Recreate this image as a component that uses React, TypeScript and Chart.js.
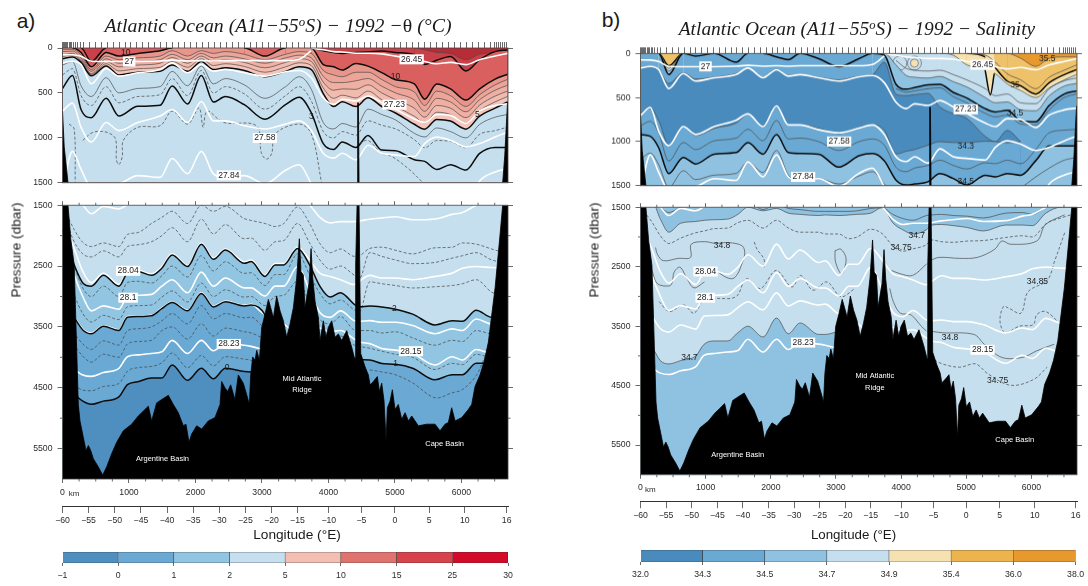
import React, { useEffect, useRef } from "react";
import { Chart, registerables } from "chart.js";
Chart.register(...registerables);

const SANS = "'Liberation Sans', Arial, sans-serif";

// ---------- shared axes ----------
const stationsKm = [0,15,30,45,60,80,100,120,140,165,190,220,265,310,400,490,580,670,760,850,940,1030,1120,1210,1300,1390,1480,1570,1660,1750,1840,1930,2020,2110,2200,2290,2380,2470,2560,2650,2740,2830,2920,3010,3100,3190,3280,3370,3460,3550,3640,3730,3820,3910,4000,4090,4180,4270,4360,4450,4540,4630,4720,4810,4900,4990,5080,5170,5260,5350,5440,5530,5620,5710,5800,5890,5980,6070,6160,6250,6340,6430,6490,6530,6560,6590,6620,6650,6680];
const kmMajor = [0,1000,2000,3000,4000,5000,6000];
const kmMinor = [250,500,750,1250,1500,1750,2250,2500,2750,3250,3500,3750,4250,4500,4750,5250,5500,5750,6250,6500];
const lonKm = [0,392,785,1180,1572,1965,2357,2750,3144,3534,4005,4495,5000,5514,6051,6680];
const lonLabels = ["−60","−55","−50","−45","−40","−35","−30","−25","−20","−15","−10","−5","0","5","10","16"];
const pressureUpperTicks = [0,500,1000,1500];
const pressureLowerTicks = [1500,2500,3500,4500,5500];
const pressureLowerMinor = [2000,3000,4000,5000];

// ---------- bathymetry (km, dbar) ----------
const bathyKm = [0,26,83,124,176,202,238,263,313,353,389,424,464,539,604,664,739,815,915,1040,1140,1216,1291,1341,1416,1491,1592,1667,1742,1817,1857,1902,1943,2018,2093,2193,2293,2369,2394,2444,2484,2529,2594,2644,2719,2770,2810,2830,2860,2896,2921,2961,2996,3046,3096,3131,3171,3221,3272,3322,3372,3422,3472,3522,3562,3587,3622,3647,3708,3738,3763,3798,3848,3873,3923,3963,3998,4049,4099,4149,4199,4274,4349,4399,4409,4430,4439,4450,4460,4485,4550,4600,4625,4675,4735,4766,4801,4836,4866,4886,4926,4961,5001,5051,5101,5152,5202,5252,5352,5477,5603,5678,5753,5803,5853,5904,6004,6104,6154,6204,6279,6340,6405,6506,6584,6620,6651,6693,6700];
const bathyP = [700,1100,1500,2050,2481,3451,4776,5045,5315,5531,5450,5531,5666,5801,5936,5801,5585,5396,5207,5099,4964,4884,4803,5045,4749,4695,4625,4776,4911,5126,5099,5396,5261,5126,5180,5045,4991,4776,4398,4506,4560,4452,4695,4290,4425,4614,4776,4300,3994,4048,3886,4048,3508,3292,3049,3184,3346,2995,3238,3400,3670,3454,3184,2699,2051,2591,2645,3184,2780,2213,2699,3076,3346,3724,3400,3670,3508,3400,3670,3616,3724,3562,3832,4048,2483,1500,610,610,1500,3939,4155,4290,4452,4398,4317,4560,4425,4721,5369,4829,4721,4533,4856,4775,5018,4910,5045,4964,5126,5099,5099,5207,5099,5072,4829,5045,4991,4856,4775,4479,4290,4074,3750,2858,1942,1500,1200,600,600];

// ---------- upper section grid (km) ----------
const gridU = [0,150,279,434,656,848,1132,1468,1649,1881,2088,2269,2450,2734,3044,3354,3561,3742,3922,4078,4207,4413,4594,4801,5008,5292,5447,5628,5835,6067,6274,6506,6693];
// lower section grid (km)
const gridL = [0,176,305,434,615,848,977,1132,1339,1494,1649,1881,2088,2269,2450,2734,2837,3044,3199,3328,3535,3716,3871,4026,4181,4388,4465,4620,4801,5008,5266,5602,5860,6016,6222,6455,6693];

// ---------- isopycnals, common to both panels (dbar) ----------
const sig27 = [74,75,92,147,150,150,150,145,135,145,140,145,140,140,140,140,125,30];
const sig2645 = [0,20,40,45,58,58,65,90,120,150,175,160,185,130,90,60];
const sig2723 = [166,147,184,398,228,313,276,240,166,276,184,258,240,276,313,265,250,332,553,626,571,590,534,608,682,790,830,740,750,840,700,640,620];
const sig2758 = [703,613,883,1046,829,919,829,757,685,829,595,811,811,865,901,847,811,919,1172,1226,1172,1244,1082,1172,1190,1208,1064,991,1028,1100,1064,991,937];
const sig2784 = [1560,1150,1350,1550,1520,1510,1420,1440,1230,1400,1150,1400,1440,1420,1510,1360,1300,1510,1700,1750,1750,1750,1750,1750,1750,1750,1750,1750,1750,1750,1480,1380,1340];
const sig2784Low = [1400,1400,1500,1640,1520,1560,1490,1400,1400,1400,1400,1400,1400,1400,1400,1400,1400,1400,1400,1400,1400,1500,1700,1790,1770,1770,1760,1730,1710,1690,1740,1726,1650,1620,1500,1400,1400];
const sig2804 = [1700,2211,2589,2777,2620,2800,2600,2570,2630,2510,2300,2490,2120,2370,2220,2430,2400,2650,2460,2460,2190,2400,2616,2670,2724,2804,2750,2653,2697,2697,2724,2670,2616,2535,2508,2524,2535];
const sig2810 = [1900,2643,3000,3236,3155,3209,3000,2980,2966,2831,2724,2939,2600,2831,2697,2858,2858,2993,2830,2830,2508,2900,3263,3343,3236,3397,3410,3397,3424,3424,3478,3613,3532,3559,3370,3451,3451];
const sig2815 = [3000,3330,3540,3600,3480,3550,3330,3320,3310,3190,3090,3225,2940,3160,3075,3145,3130,3290,3300,3450,3600,3500,3520,3580,3560,3700,3750,3775,3856,3882,3936,4125,3990,4044,3871,3936,3936];
const sig2823 = [4100,4200,4290,4314,4250,4180,3990,3960,3936,3910,3721,3936,3721,3893,3775,3802,3820,3882];

// ---------- panel a, upper: temperature contours (dbar) ----------
const t25 = [0,0,0,0,0,0,0,0,0,0,0,0,0,0,0,0,0,0,0,0,0,0,0,0,0,0,20,50,60,130,70,50,30];
const t15 = [0,0,0,150,0,0,0,0,0,0,0,0,0,0,0,0,0,0,30,50,60,50,45,33,51,76,184,137,94,256,130,40,22];
const t10 = [0,0,50,210,50,90,60,30,0,0,0,0,0,0,90,0,0,0,184,209,245,173,202,274,353,400,569,400,454,579,454,346,292];
const t9 = [15,15,80,240,90,130,110,90,30,90,30,60,40,70,130,70,40,60,250,300,320,270,270,350,430,490,640,480,530,650,520,410,350];
const t8 = [40,35,110,260,120,170,150,130,70,130,60,110,90,120,170,110,80,110,315,385,385,365,340,425,500,580,705,560,600,710,575,470,415];
const t7 = [70,60,130,285,150,210,190,170,105,170,90,150,130,160,220,160,120,150,380,470,455,460,410,500,575,670,770,640,670,775,635,535,480];
const t6 = [95,80,145,295,175,255,230,215,150,215,120,195,175,205,270,210,165,195,445,560,525,555,480,575,650,760,835,715,740,840,695,600,540];
const t5 = [120,100,160,310,200,300,270,260,190,260,150,240,220,250,320,260,210,240,507,651,597,651,554,651,723,849,903,795,813,903,759,669,600];
const t4 = [190,150,420,540,330,500,450,430,260,420,200,400,340,410,560,430,320,460,830,900,840,880,680,740,800,950,990,890,930,1000,850,770,740];
const t35 = [300,230,530,640,430,610,540,520,340,530,250,500,430,510,680,530,430,590,930,1000,930,970,810,860,900,1020,1110,1030,1040,1110,960,920,880];
const t3 = [450,306,685,775,559,757,649,638,422,624,306,602,541,631,793,631,548,721,1064,1129,1046,1107,974,1136,1143,1244,1262,1352,1298,1359,1172,1107,1107];
const t25aKm = [98,176,191];
const t25aP = [847,901,1496];
const t25bKm = [305,460,667,796,811,848,899,915,1132,1468,1649,1881,2052,2114,2176,2424,2915,2992,3070,3147,3199,3561,3742,3897];
const t25bP = [1028,938,938,1010,1244,1298,1208,1028,883,865,703,847,667,883,703,829,865,1172,1237,1172,956,847,956,1500];
const t25cKm = [4465,4594,4801,4956,5215,5422];
const t25cP = [1064,1028,1172,1208,1352,1500];

// ---------- panel a, lower ----------
const t2 = [1900,2481,2777,2831,2653,2831,2616,2589,2653,2535,2319,2508,2141,2389,2238,2454,2427,2670,2481,2481,2211,2481,2831,3009,2939,3128,3171,3155,3171,3209,3290,3467,3397,3408,3225,3343,3343];
const t1 = [3000,3343,3550,3613,3489,3559,3343,3330,3317,3200,3101,3236,2950,3171,3085,3155,3140,3300,3800,3900,4000,4000,4000,4000,4000,4020,4040,4044,4100,4114,4179,4368,4287,4287,4098,4098,4098];
const t0 = [4500,4610,4720,4772,4720,4650,4448,4400,4341,4341,4125,4378,4179,4351,4179,4233,4240,4300];
const dashA = [1600,2100,2300,2350,2250,2350,2180,2150,2100,2000,1870,2100,1730,1970,1820,2050,2040,2240,2100,2080,1800,2120,2400,2550,2500,2650,2700,2280,2340,2400,2460,2440,2370,2330,2280,2400,2450];
const dashA2 = [1500,1900,2110,2180,2120,2180,1980,1950,1800,1700,1600,1800,1500,1600,1520,1720,1750,1800,1850,1800,1530,1800,2130,2280,2220,2340,2330,2210,2190,2240,2300,2200,2190,2120,2140,2220,2300];
const dashB = [2000,2500,2860,3000,2830,3000,2770,2750,2780,2660,2500,2680,2330,2580,2430,2620,2610,2820,2640,2640,2300,2640,2950,3120,3060,3220,3250,2760,2790,2820,2860,2840,2820,2790,2724,2930,3000];
const dashC = [2450,2980,3280,3420,3310,3380,3170,3150,3140,3010,2910,3090,2780,3000,2890,3010,3000,3150,3000,2980,2750,3100,3380,3450,3330,3550,3560,3560,3600,3580,3680,3800,3720,3740,3560,3620,3650];
const dashD = [3300,3600,3780,3870,3730,3800,3560,3530,3500,3400,3280,3450,3150,3370,3280,3350,3340,3500,3500,3500,3500,3500,3600,3680,3650,3800,3820,3850,3900,3950,4000,4200,4100,4120,3950,4000,4000];
const dashE = [3500,3800,3980,4080,3950,4000,3780,3740,3720,3560,3500,3700,3450,3650,3520,3580,3600,3700];
const dashF = [4300,4450,4540,4550,4480,4430,4230,4170,4150,4090,3930,4170,3970,4140,3990,4030,4050,4150];
const dashRKm = [4620,4801,5008,5266,5602,5860,6016,6222,6350];
const dashRP = [4206,4240,4287,4421,4664,4583,4530,4300,4000];

// ---------- panel b, upper: salinity contours (dbar) ----------
const s355 = [0,0,0,0,0,0,0,0,0,0,0,0,0,0,0,0,0,0,0,0,0,0,0,0,0,0,0,0,55,147,55,40,40];
const s35 = [0,0,0,140,0,0,0,0,0,0,0,0,0,0,0,0,0,0,0,0,0,0,0,0,0,40,166,313,368,461,332,240,184];
const s349 = [0,0,0,170,0,0,0,0,0,0,0,0,0,0,0,0,0,0,0,0,0,0,0,20,130,180,230,345,420,500,390,300,240];
const s347 = [0,0,0,200,0,0,0,0,0,0,0,0,0,0,0,0,0,0,130,250,270,280,260,320,380,500,560,550,640,650,480,370,340];
const s345 = [0,0,0,240,0,0,0,0,0,0,0,0,0,0,0,0,0,20,350,405,387,357,350,442,505,626,663,645,763,774,590,460,424];
const s343Top = [170,150,190,340,220,290,270,230,170,270,180,250,240,270,300,260,240,100,461,479,468,453,608,682,737,940,1000,873,1000];
const s343Bot = [680,620,760,1040,830,930,850,790,690,830,600,810,810,850,910,840,810,870,1140,1110,1090,1040,1000,1010,1010,995,1000,1013,1000];
const s344 = [820,770,900,1220,1010,1090,990,960,860,990,760,970,960,1000,1100,1000,970,1040,1290,1340,1300,1270,1210,1270,1310,1240,1250,1210,1250,1090,900,870,860];
const s345Deep = [921,940,1069,1363,1179,1253,1142,1124,1013,1142,921,1124,1135,1142,1290,1161,1135,1216,1437,1492,1481,1455,1363,1419,1492,1382,1400,1363,1382,1216,1050,1050,1050];
const s346 = [1200,1130,1260,1520,1330,1430,1380,1360,1230,1350,1100,1380,1440,1420,1480,1390,1340,1480,1600,1600,1600,1600,1600,1600,1600,1560,1560,1560,1520,1400,1300,1210,1180];
const s348Top = [80,170,190,200,190,240,300,400,480,460,560,570,400,310,280];
const s346Top = [400,440,425,400,390,490,560,680,720,700,800,810,640,500,460];
const s352 = [0,20,100,230,300,400,270,190,130];
const surfaceLoops = [0,0,0,0,0,30,0,100,0,0,40,70,0,60,150,60,0,0];
const spikeKm = [5290,5369,5430];
const spikeP = [190,470,230];
const eddyKm = [4205,3980,821];
const eddyP = [110,110,40];
const coreKm = [4205];
const coreP = [110];

// ---------- panel b, lower ----------
const s346Low = [1400,1400,1500,1590,1500,1450,1450,1450,1450,1450,1400,1540,1450,1520,1540,1570,1570,1570,1570,1560,1520,1510,1620,1690,1720,1640,1630,1620,1640,1650,1680,1600,1590,1620,1500,1400,1400];
const s347Up = [1400,1400,1700,1920,1770,1740,1720,1710,1700,1620,1500,1560,1520,1600,1620,1640,1630,1640,1630,1620,1600,1500,1760,1880,1950,1880,1800,1790,1810,1840,1900,1800,1800,1810,1600,1500,1500];
const s3475Up = [1500,1750,1980,2110,2020,1930,1900,1860,1850,1760,1720,1850,1720,1850,1920,1920,1950,1950,2030,2000,1870,1950,2150,2240,2200,2130,2050,2080,2090,2070,2060,2010,1980,2000,1780,1680,1600];
const s347Low = [3800,3860,4080,4135,4080,4000,3804,3749,3749,3611,3501,3683,3363,3628,3446,3639,3639,3584];
const s348aKm = [231,258,349,580,768,778,982,1143,1358,1562,1600,1546,1492,1412,1277,1170];
const s348aP = [2178,2288,2399,2360,2344,2123,2079,2107,2096,2151,2288,2481,2619,2702,2658,2564];
const s348bKm = [177,258,446,489,516,607,714,821,982];
const s348bP = [2564,2785,2823,2757,2592,2509,2702,2856,2757];
const s348cKm = [2985,3076,3156,3086,2995,2985];
const s348cP = [2233,2206,2371,2619,2426,2233];
const s348dKm = [3854,3988,4176,4391];
const s348dP = [2564,2619,2647,2454];
const s348eKm = [3827,3881,3988,4149,4310,4391];
const s348eP = [2867,3088,3281,3308,3501,3584];
const s348fKm = [4445,4579,4901,5169,5438,5545,5679,6082,6216,6511];
const s348fP = [2399,2344,2360,2344,2206,2068,2123,2068,1792,1627];
const s348gKm = [4445,4633,5116,5277,5545,5867,6082,6350];
const s348gP = [3584,3611,3639,3804,4025,4025,3915,3804];
const s3485aKm = [285,446,660,821,982,1143,1465,1626,1841,2083,2324,2459,2646,2861,3076,3291];
const s3485aP = [3088,3253,3143,3281,3033,3033,3005,2702,2867,2564,2840,2647,2895,2757,3005,2867];
const s3485bKm = [6511,6350,6243,5948,5840,5652,5571,5518,5599,5813,6028,6082,6216,6404];
const s3485bP = [1930,2426,2729,2922,3281,3198,3170,3418,3611,3501,3474,3308,3253,3418];
const s3485cKm = [1745,1788,1895,1895];
const s3485cP = [2084,2206,2371,2509];
const s3475LowKm = [4445,4633,4901,5143,5330,5679,6028,6243];
const s3475LowP = [4025,4135,4190,4135,4300,4494,4400,4190];

// ---------- colour bars ----------
const thetaLevels = ["−1","0","1","2","5","10","15","25","30"];
const thetaColors = ["#4f8fc0","#6aa9d3","#92c5e2","#c5dfee","#f2bfb2","#e0736d","#d8424a","#d40a2a"];
const salLevels = ["32.0","34.3","34.5","34.7","34.9","35.4","36.0","38.0"];
const salColors = ["#4a8bbd","#6aa9d3","#8fc1e0","#c5dfee","#f6e2b0","#ebb44c","#e8992d"];

// ---------- contour labels: [km, dbar, text, kind] ----------
type Lab = [number, number, string, string];
const labAU: Lab[] = [[951,54,"10","p"],[1003,151,"27","b"],[5251,126,"26.45","b"],[5008,314,"10","p"],[4992,631,"27.23","b"],[6238,739,"5","p"],[3742,764,"3","p"],[3044,1002,"27.58","b"],[2501,1417,"27.84","b"]];
const labAL: Lab[] = [[987,2578,"28.04","b"],[987,3020,"28.1","b"],[2501,3780,"28.23","b"],[5240,3899,"28.15","b"],[2475,4168,"0","p"],[5008,4098,"1","p"],[4992,3198,"2","p"],[3602,4351,"Mid Atlantic","w"],[3602,4535,"Ridge","w"],[1504,5672,"Argentine Basin","w"],[5747,5418,"Cape Basin","w"]];
const labBU: Lab[] = [[998,147,"27","b"],[5250,129,"26.45","b"],[5749,361,"35","p"],[6243,63,"35.5","p"],[4992,634,"27.23","b"],[5749,682,"34.5","p"],[3049,999,"27.58","b"],[4992,1050,"34.3","p"],[2496,1400,"27.84","b"],[4992,1448,"34.5","p"]];
const labBL: Lab[] = [[1251,2140,"34.8","p"],[4241,1974,"34.7","p"],[3999,2184,"34.75","p"],[998,2581,"28.04","b"],[993,3022,"28.1","b"],[6093,2757,"34.85","p"],[4751,3694,"34.8","p"],[2496,3777,"28.23","b"],[5250,3898,"28.15","b"],[752,4036,"34.7","p"],[5481,4422,"34.75","p"],[3597,4345,"Mid Atlantic","w"],[3597,4538,"Ridge","w"],[1492,5662,"Argentine Basin","w"],[5744,5414,"Cape Basin","w"]];

// ---------- styles ----------
const THICK = { borderColor: "#0c0c0c", borderWidth: 1.5 };
const THIN = { borderColor: "#4a4a4a", borderWidth: 0.7 };
const DASH = { borderColor: "#444", borderWidth: 0.7, borderDash: [3, 2] };
const WHITE = { borderColor: "#fff", borderWidth: 1.6 };
const NOLINE = { borderColor: "rgba(0,0,0,0)", borderWidth: 0 };
const hideSurface = {
  borderColor: (ctx: any) => (ctx.p0.parsed.y === 0 && ctx.p1.parsed.y === 0 ? "rgba(0,0,0,0)" : undefined),
};

const line = (xs: number[], ys: (number | null)[], style: any, extra: any = {}) => ({
  type: "line",
  data: xs.map((x, i) => ({ x, y: ys[i] ?? null })),
  pointRadius: 0,
  fill: false,
  cubicInterpolationMode: "monotone",
  segment: hideSurface,
  ...style,
  ...extra,
});
const loop = (xs: number[], ys: number[], style: any) => ({
  type: "line",
  data: xs.map((x, i) => ({ x, y: ys[i] })),
  pointRadius: 0,
  fill: false,
  tension: 0.35,
  ...style,
});
const fillLine = (xs: number[], ys: number[], color: string, bottom: number, style: any) =>
  line(xs, ys, style, { fill: { value: bottom }, backgroundColor: color });
const bathy = (bottom: number) => ({
  type: "line",
  data: bathyKm.map((x, i) => ({ x, y: bathyP[i] })),
  pointRadius: 0,
  borderColor: "#000",
  borderWidth: 0.8,
  tension: 0,
  fill: { value: bottom },
  backgroundColor: "#000",
});
const seq = (list: any[]) => list.map((d, i) => ({ ...d, order: list.length - i }));

// ---------- panel contents ----------
const uA = gridU, lA = gridL;
const whitesU = () => [
  line(uA.slice(0, sig27.length), sig27, WHITE),
  line(uA.slice(17), sig2645, WHITE),
  line(uA, sig2723, WHITE),
  line(uA, sig2758, WHITE),
  line(uA, sig2784, WHITE),
];
const whitesL = () => [
  line(lA, sig2784Low, WHITE),
  line(lA, sig2804, WHITE),
  line(lA, sig2810, WHITE),
  line(lA, sig2815, WHITE),
  line(lA, sig2823, WHITE),
];
const dsAU = () => seq([
  fillLine(uA, t25, "#c94048", 1500, THIN),
  fillLine(uA, t15, "#d9605f", 1500, THICK),
  fillLine(uA, t10, "#e8968b", 1500, THICK),
  fillLine(uA, t9, "#eca598", 1500, THIN),
  fillLine(uA, t8, "#efafa3", 1500, THIN),
  fillLine(uA, t7, "#f2bbaf", 1500, THIN),
  fillLine(uA, t6, "#f4c5ba", 1500, THIN),
  fillLine(uA, t5, "#c5dfee", 1500, THICK),
  line(uA, t4, THIN),
  line(uA, t35, DASH),
  line(uA, t3, THICK),
  loop(t25aKm, t25aP, DASH),
  loop(t25bKm, t25bP, DASH),
  loop(t25cKm, t25cP, DASH),
  ...whitesU(),
  bathy(1500),
]);
const dsAL = () => seq([
  fillLine(lA, t2, "#92c5e2", 6000, NOLINE),
  fillLine(lA, t1, "#6aa9d3", 6000, NOLINE),
  fillLine(lA, t0, "#4f8fc0", 6000, NOLINE),
  line(lA, dashA2, DASH),
  line(lA, dashA, DASH),
  line(lA, dashB, DASH),
  line(lA, dashC, DASH),
  line(lA, dashD, DASH),
  line(lA, dashE, DASH),
  line(lA, dashF, DASH),
  loop(dashRKm, dashRP, DASH),
  ...whitesL(),
  line(lA, t2, THICK),
  line(lA, t1, THICK),
  line(lA, t0, THICK),
  bathy(6000),
]);
const eddy = (xs: number[], ys: number[], r: number, bg: string) => ({
  type: "line",
  data: xs.map((x, i) => ({ x, y: ys[i] })),
  showLine: false,
  pointRadius: r,
  pointBackgroundColor: bg,
  pointBorderColor: "#667",
  pointBorderWidth: 0.7,
});
const dsBU = () => seq([
  fillLine(uA, s355, "#eec26a", 1500, THIN),
  fillLine(uA, s35, "#f6e2b0", 1500, THICK),
  fillLine(uA, s349, "#c5dfee", 1500, THIN),
  eddy(eddyKm, eddyP, 7, "#c5dfee"),
  eddy(coreKm, coreP, 4, "#f6e2b0"),
  fillLine(uA, s347, "#8fc1e0", 1500, THIN),
  fillLine(uA, s345, "#6aa9d3", 1500, THICK),
  fillLine(uA.slice(0, s343Top.length), s343Top, "#4a8bbd", 1500, THIN),
  fillLine(uA.slice(0, s343Bot.length), s343Bot, "#6aa9d3", 1500, THIN),
  fillLine(uA, s345Deep, "#8fc1e0", 1500, THICK),
  line(spikeKm, spikeP, THICK, { fill: { value: 0 }, backgroundColor: "#f6e2b0" }),
  line(uA, s344, THIN),
  line(uA, s346, THIN),
  line(uA.slice(18), s348Top, THIN),
  line(uA.slice(18), s346Top, THIN),
  line(uA.slice(24), s352, THIN),
  line(uA.slice(0, surfaceLoops.length), surfaceLoops, THICK),
  ...whitesU(),
  bathy(1500),
]);
const dsBL = () => seq([
  fillLine(lA, s347Up, "#c5dfee", 6000, THIN),
  fillLine(lA.slice(0, s347Low.length), s347Low, "#8fc1e0", 6000, THIN),
  line(lA, s346Low, THIN),
  line(lA, s3475Up, DASH),
  loop(s348aKm, s348aP, THIN),
  loop(s348bKm, s348bP, THIN),
  loop(s348cKm, s348cP, THIN),
  loop(s348dKm, s348dP, THIN),
  loop(s348eKm, s348eP, THIN),
  loop(s348fKm, s348fP, THIN),
  loop(s348gKm, s348gP, THIN),
  loop(s3485aKm, s3485aP, DASH),
  loop(s3485bKm, s3485bP, DASH),
  loop(s3485cKm, s3485cP, DASH),
  loop(s3475LowKm, s3475LowP, DASH),
  ...whitesL(),
  bathy(6000),
]);

// ---------- chart builders ----------
const tickFont = { family: SANS, size: 8.7 };
const axis = (position: string, values: number[], tickLen: number, size: number, range: any, opts: any = {}) => ({
  type: "linear",
  position,
  ...range,
  weight: opts.weight ?? 0,
  afterBuildTicks: (s: any) => { s.ticks = values.map((v) => ({ value: v })); },
  afterFit: (s: any) => {
    if (position === "left" || position === "right") s.width = size;
    else s.height = size;
  },
  grid: { drawOnChartArea: false, drawTicks: true, tickLength: tickLen, tickColor: "#444", tickWidth: 0.8 },
  border: opts.border ? { display: true, color: "#333", width: 1 } : { display: false },
  title: { display: false },
  ticks: {
    display: !!opts.labels,
    font: tickFont,
    color: "#2b2b2b",
    padding: opts.padding ?? 3,
    autoSkip: false,
    minRotation: 0,
    maxRotation: 0,
    callback: opts.labels ?? (() => ""),
  },
});

const sectionPlugin = (surface: string, labels: Lab[], minorX: number[], minorY: number[], kmMark: number | null) => ({
  id: "section",
  beforeDatasetsDraw(c: any) {
    const a = c.chartArea, g = c.ctx;
    g.save();
    g.fillStyle = surface;
    g.fillRect(a.left, a.top, a.right - a.left, a.bottom - a.top);
    g.restore();
  },
  afterDatasetsDraw(c: any) {
    const a = c.chartArea, g = c.ctx, x = c.scales.x, y = c.scales.y;
    g.save();
    g.strokeStyle = "#444";
    g.lineWidth = 0.8;
    g.strokeRect(a.left, a.top, a.right - a.left, a.bottom - a.top);
    g.beginPath();
    minorX.forEach((v) => {
      const p = x.getPixelForValue(v);
      g.moveTo(p, a.bottom); g.lineTo(p, a.bottom + 2.5);
      g.moveTo(p, a.top); g.lineTo(p, a.top - 2.5);
    });
    minorY.forEach((v) => {
      const p = y.getPixelForValue(v);
      g.moveTo(a.left, p); g.lineTo(a.left - 2.5, p);
      g.moveTo(a.right, p); g.lineTo(a.right + 2.5, p);
    });
    g.stroke();
    g.textAlign = "center";
    g.textBaseline = "middle";
    labels.forEach(([km, p, text, kind]) => {
      const px = x.getPixelForValue(km), py = y.getPixelForValue(p);
      g.font = (kind === "w" ? "7.5px " : "8.5px ") + SANS;
      if (kind === "b") {
        const w = g.measureText(text).width;
        g.fillStyle = "#fff";
        g.fillRect(px - w / 2 - 1.5, py - 5, w + 3, 10);
      }
      g.fillStyle = kind === "w" ? "#fff" : "#1c1c1c";
      g.fillText(text, px, py);
    });
    if (kmMark !== null) {
      g.fillStyle = "#2b2b2b";
      g.font = "8px " + SANS;
      g.fillText("km", x.getPixelForValue(kmMark), a.bottom + 15);
    }
    g.restore();
  },
});

const base = (box: any, plot: any, leftW: number, rightW: number, topH: number, botH: number) => ({
  responsive: false,
  animation: false,
  events: [],
  layout: {
    autoPadding: false,
    padding: {
      left: plot.l - box.l - leftW,
      right: box.l + box.w - plot.r - rightW,
      top: plot.t - box.t - topH,
      bottom: box.t + box.h - plot.b - botH,
    },
  },
});

const upperChart = (el: HTMLCanvasElement, box: any, plot: any, surface: string, ds: any[], labs: Lab[]) => {
  const yr = { min: 0, max: 1500, reverse: true };
  const xr = { min: 0, max: 6700 };
  const str = (v: number) => String(v);
  return new Chart(el, {
    type: "line",
    data: { datasets: ds },
    options: {
      ...base(box, plot, 45, 8, 7, 0),
      plugins: { legend: { display: false }, tooltip: { enabled: false }, title: { display: false } },
      scales: {
        x: axis("top", stationsKm, 6, 7, xr),
        y: axis("left", pressureUpperTicks, 5, 45, yr, { labels: str, padding: 5 }),
        yR: axis("right", pressureUpperTicks, 5, 8, yr),
      },
    },
    plugins: [sectionPlugin(surface, labs, [], [], null)],
  } as any);
};

const lowerChart = (el: HTMLCanvasElement, box: any, plot: any, surface: string, ds: any[], labs: Lab[], kmH: number, lonH: number, kmMark: number) => {
  const yr = { min: 1500, max: 6000, reverse: true };
  const xr = { min: 0, max: 6700 };
  const str = (v: number) => String(v);
  return new Chart(el, {
    type: "line",
    data: { datasets: ds },
    options: {
      ...base(box, plot, 45, 8, 5, kmH + lonH),
      plugins: { legend: { display: false }, tooltip: { enabled: false }, title: { display: false } },
      scales: {
        x: axis("bottom", kmMajor, 4, kmH, xr, { labels: str, padding: 4 }),
        lon: axis("bottom", lonKm, 7, lonH, xr, {
          weight: 1,
          border: true,
          padding: 2,
          labels: (_v: number, i: number) => lonLabels[i],
        }),
        xTop: axis("top", kmMajor, 4, 5, xr),
        y: axis("left", pressureLowerTicks, 5, 45, yr, { labels: str, padding: 5 }),
        yR: axis("right", pressureLowerTicks, 5, 8, yr),
      },
    },
    plugins: [sectionPlugin(surface, labs, kmMinor, pressureLowerMinor, kmMark)],
  } as any);
};

const colorBar = (el: HTMLCanvasElement, box: any, plot: any, levels: string[], colors: string[]) => {
  const positions = levels.map((_, i) => i);
  return new Chart(el, {
    type: "bar",
    data: {
      labels: [""],
      datasets: colors.map((c) => ({
        data: [1],
        backgroundColor: c,
        borderColor: "#333",
        borderWidth: 0.7,
        barPercentage: 1,
        categoryPercentage: 1,
      })),
    },
    options: {
      ...base(box, plot, 0, 0, 0, box.t + box.h - plot.b),
      indexAxis: "y",
      plugins: { legend: { display: false }, tooltip: { enabled: false }, title: { display: false } },
      scales: {
        x: {
          ...axis("bottom", positions, 3, box.t + box.h - plot.b, { min: 0, max: colors.length }, {
            labels: (v: number) => levels[v],
            padding: 4,
          }),
          stacked: true,
        },
        y: { type: "category", display: false, stacked: true },
      },
    },
  } as any);
};

const BOX = {
  au: { l: 0, t: 36, w: 530, h: 157 },
  al: { l: 0, t: 195, w: 530, h: 339 },
  ac: { l: 30, t: 548, w: 500, h: 38 },
  bu: { l: 595, t: 41, w: 493, h: 154.5 },
  bl: { l: 595, t: 196.5, w: 493, h: 331 },
  bc: { l: 605, t: 546, w: 483, h: 40 },
};
const PLOT = {
  au: { l: 62.5, r: 508, t: 48, b: 187 },
  al: { l: 62.5, r: 508, t: 201, b: 479 },
  ac: { l: 62.5, r: 508, t: 552, b: 563 },
  bu: { l: 640.5, r: 1077, t: 53.3, b: 189 },
  bl: { l: 640.5, r: 1077, t: 202.3, b: 474.3 },
  bc: { l: 640.5, r: 1077, t: 550, b: 562 },
};

const cv = (b: any): React.CSSProperties => ({ position: "absolute", left: b.l, top: b.t, width: b.w, height: b.h });
const txt = (l: number, t: number, extra: React.CSSProperties): React.CSSProperties => ({
  position: "absolute",
  left: l,
  top: t,
  whiteSpace: "nowrap",
  color: "#1a1a1a",
  transform: "translate(-50%,-50%)",
  ...extra,
});
const serif = (size: number): React.CSSProperties => ({ fontFamily: "'Liberation Serif', serif", fontStyle: "italic", fontSize: size });
const sup: React.CSSProperties = { fontSize: "0.65em", verticalAlign: "0.45em", lineHeight: 0 };
const rot = "translate(-50%,-50%) rotate(-90deg)";

export default function App() {
  const r1 = useRef<HTMLCanvasElement>(null);
  const r2 = useRef<HTMLCanvasElement>(null);
  const r3 = useRef<HTMLCanvasElement>(null);
  const r4 = useRef<HTMLCanvasElement>(null);
  const r5 = useRef<HTMLCanvasElement>(null);
  const r6 = useRef<HTMLCanvasElement>(null);
  useEffect(() => {
    const charts = [
      upperChart(r1.current!, BOX.au, PLOT.au, "#b82c38", dsAU(), labAU),
      lowerChart(r2.current!, BOX.al, PLOT.al, "#c5dfee", dsAL(), labAL, 27, 24, 176),
      colorBar(r3.current!, BOX.ac, PLOT.ac, thetaLevels, thetaColors),
      upperChart(r4.current!, BOX.bu, PLOT.bu, "#e8992d", dsBU(), labBU),
      lowerChart(r5.current!, BOX.bl, PLOT.bl, "#8fc1e0", dsBL(), labBL, 26.4, 24, 150),
      colorBar(r6.current!, BOX.bc, PLOT.bc, salLevels, salColors),
    ];
    return () => charts.forEach((c) => c.destroy());
  }, []);
  const size = (b: any) => ({ width: b.w, height: b.h });
  return (
    <div style={{ position: "absolute", left: 0, top: 0, width: 1088, height: 586, background: "#fff", overflow: "hidden", filter: "blur(0.35px)" }}>
      <canvas ref={r1} {...size(BOX.au)} style={cv(BOX.au)} />
      <canvas ref={r2} {...size(BOX.al)} style={cv(BOX.al)} />
      <canvas ref={r3} {...size(BOX.ac)} style={cv(BOX.ac)} />
      <canvas ref={r4} {...size(BOX.bu)} style={cv(BOX.bu)} />
      <canvas ref={r5} {...size(BOX.bl)} style={cv(BOX.bl)} />
      <canvas ref={r6} {...size(BOX.bc)} style={cv(BOX.bc)} />
      <div style={txt(26, 21, { fontFamily: SANS, fontSize: 21 })}>a)</div>
      <div style={txt(611, 20, { fontFamily: SANS, fontSize: 21 })}>b)</div>
      <div style={txt(278, 25, serif(19.8))}>
        Atlantic Ocean (A11−55<span style={sup}>o</span>S) − 1992 −<span style={{ fontStyle: "normal" }}>θ</span> (°C)
      </div>
      <div style={txt(857, 29, serif(19.4))}>
        Atlantic Ocean (A11−55<span style={sup}>o</span>S) − 1992 − Salinity
      </div>
      <div style={txt(15.5, 250, { fontFamily: SANS, fontSize: 13.7, transform: rot })}>Pressure (dbar)</div>
      <div style={txt(594, 250, { fontFamily: SANS, fontSize: 13.7, transform: rot })}>Pressure (dbar)</div>
      <div style={txt(297, 534, { fontFamily: SANS, fontSize: 13.7 })}>Longitude (°E)</div>
      <div style={txt(853.5, 534, { fontFamily: SANS, fontSize: 13.3 })}>Longitude (°E)</div>
    </div>
  );
}
